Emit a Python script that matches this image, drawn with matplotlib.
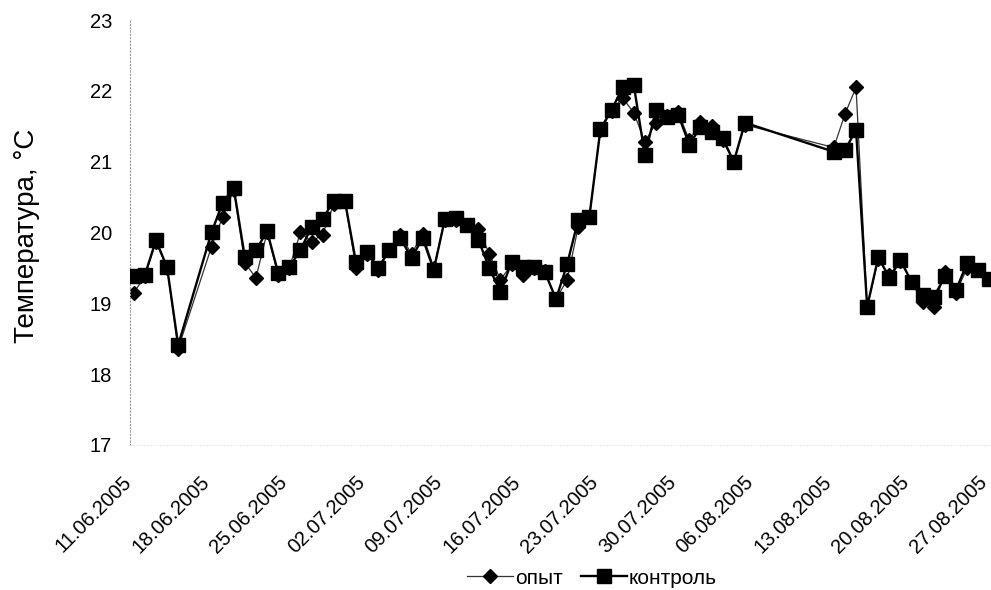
import matplotlib
matplotlib.use('Agg')
import matplotlib.pyplot as plt
import matplotlib.dates as mdates
from matplotlib.transforms import ScaledTranslation
import pandas as pd

plt.rcParams['font.family'] = ['Liberation Sans', 'DejaVu Sans']

# measurement dates (2005)
dates = ['11.06', '12.06', '13.06', '14.06', '15.06', '18.06', '19.06', '20.06',
         '21.06', '22.06', '23.06', '24.06', '25.06', '26.06', '27.06', '28.06',
         '29.06', '30.06', '01.07', '02.07', '03.07', '04.07', '05.07', '06.07',
         '07.07', '08.07', '09.07', '10.07', '11.07', '12.07', '13.07', '14.07',
         '15.07', '16.07', '17.07', '18.07', '19.07', '20.07', '21.07', '22.07',
         '23.07', '24.07', '25.07', '26.07', '27.07', '28.07', '29.07', '30.07',
         '31.07', '01.08', '02.08', '03.08', '04.08', '05.08', '13.08', '14.08',
         '15.08', '16.08', '17.08', '18.08', '19.08', '20.08', '21.08', '22.08',
         '23.08', '24.08', '25.08', '26.08', '27.08']

opyt = [19.15, 19.38, 19.87, 19.50, 18.36, 19.80, 20.22, 20.60,
        19.57, 19.36, 20.00, 19.40, 19.50, 20.00, 19.87, 19.97,
        20.40, 20.45, 19.50, 19.70, 19.47, 19.75, 19.96, 19.70,
        19.98, 19.50, 20.17, 20.17, 20.10, 20.05, 19.70, 19.33,
        19.55, 19.40, 19.50, 19.45, 19.06, 19.33, 20.08, 20.22,
        21.45, 21.72, 21.90, 21.69, 21.28, 21.55, 21.65, 21.70,
        21.30, 21.56, 21.50, 21.30, 21.00, 21.52, 21.20, 21.67,
        22.05, 18.95, 19.62, 19.40, 19.60, 19.30, 19.02, 18.95,
        19.44, 19.15, 19.50, 19.47, 19.35]

kontrol = [19.38, 19.40, 19.89, 19.51, 18.41, 20.00, 20.42, 20.63,
           19.65, 19.75, 20.02, 19.43, 19.51, 19.75, 20.08, 20.19,
           20.45, 20.45, 19.58, 19.72, 19.50, 19.75, 19.92, 19.64,
           19.92, 19.47, 20.19, 20.20, 20.10, 19.90, 19.50, 19.16,
           19.58, 19.51, 19.51, 19.44, 19.06, 19.55, 20.18, 20.22,
           21.46, 21.73, 22.05, 22.08, 21.09, 21.73, 21.63, 21.66,
           21.24, 21.49, 21.42, 21.33, 21.00, 21.55, 21.14, 21.16,
           21.45, 18.95, 19.65, 19.36, 19.61, 19.30, 19.12, 19.09,
           19.38, 19.19, 19.57, 19.47, 19.35]

t = pd.to_datetime([d + '.2005' for d in dates], format='%d.%m.%Y')

fig = plt.figure(figsize=(9.91, 5.90), dpi=100)
ax = fig.add_axes([0.1312, 0.2458, 0.884, 0.7203])

ax.plot(t, opyt, color='#333333', lw=0.9, marker='D', ms=7.5,
        mfc='black', mec='black', label='опыт', zorder=2)
ax.plot(t, kontrol, color='black', lw=1.7, marker='s', ms=10,
        mfc='black', mec='black', label='контроль', zorder=3)

ax.set_ylim(17, 23)
ax.set_xlim(pd.Timestamp('2005-06-10 16:00'), pd.Timestamp('2005-08-28 12:00'))
ax.set_yticks(range(17, 24))

ax.set_xticks(pd.date_range('2005-06-11', '2005-08-27', freq='7D'))
ax.xaxis.set_major_formatter(mdates.DateFormatter('%d.%m.%Y'))

ax.tick_params(axis='both', length=0, labelsize=14.5)
ax.tick_params(axis='y', pad=13)
ax.tick_params(axis='x', pad=20)
offset = ScaledTranslation(-0.12, 0, fig.dpi_scale_trans)
for lab in ax.get_xticklabels():
    lab.set_rotation(45)
    lab.set_ha('right')
    lab.set_va('top')
    lab.set_rotation_mode('anchor')
    lab.set_transform(lab.get_transform() + offset)

for side in ['top', 'right']:
    ax.spines[side].set_visible(False)
ax.spines['left'].set_linestyle((0, (1, 2)))
ax.spines['left'].set_color('#999999')
ax.spines['left'].set_linewidth(0.8)
ax.spines['bottom'].set_linestyle((0, (1, 3)))
ax.spines['bottom'].set_color('#dddddd')
ax.spines['bottom'].set_linewidth(0.6)

fig.text(27 / 991, 1 - 236 / 590, 'Температура, °C', rotation=90,
         ha='center', va='center', fontsize=20)

fig.legend(loc='center', bbox_to_anchor=(592 / 991, 1 - 578 / 590), ncol=2,
           frameon=False, fontsize=15, handlelength=2.2, handletextpad=0.1,
           columnspacing=0.85, borderpad=0)

fig.savefig('out.png', dpi=100)
